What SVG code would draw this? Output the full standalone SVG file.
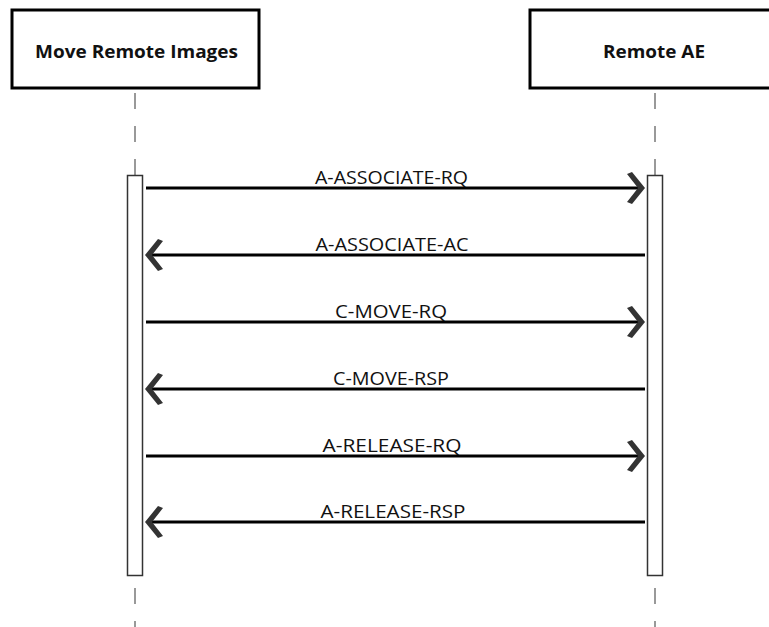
<svg xmlns="http://www.w3.org/2000/svg" width="769" height="627" viewBox="0 0 769 627">
<style>
.box{fill:#fff;stroke:#000;stroke-width:3}
.hd{font-family:"Open Sans","Noto Sans",sans-serif;font-weight:bold;font-size:18px;fill:#111;text-anchor:middle}
.life{stroke:#999;stroke-width:2;stroke-dasharray:16 17;fill:none}
.act{fill:#fff;stroke:#333;stroke-width:1.5}
.msg{stroke:#000;stroke-width:3;fill:none}
.lbl{font-family:"Open Sans","Noto Sans",sans-serif;font-size:18px;fill:#111;text-anchor:middle}
.ah{fill:#333}
</style>
<defs>
<polygon id="hr" points="0,0 -13,-16 -18,-14 -7,0 -18,14 -13,16"/>
<polygon id="hl" points="0,0 13,-16 18,-14 7,0 18,14 13,16"/>
</defs>
<g id="lifelines">
<line class="life" x1="135" y1="93" x2="135" y2="627"/>
<line class="life" x1="655" y1="93" x2="655" y2="627"/>
</g>
<g id="node-move">
<rect class="box" x="12" y="10" width="247" height="78"/>
<text class="hd" x="136.5" y="58" textLength="203" lengthAdjust="spacingAndGlyphs">Move Remote Images</text>
</g>
<g id="node-remote">
<rect class="box" x="530" y="10" width="260" height="78"/>
<text class="hd" x="654" y="58" textLength="102" lengthAdjust="spacingAndGlyphs">Remote AE</text>
</g>
<g id="activations">
<rect class="act" x="127.5" y="175.5" width="15" height="400"/>
<rect class="act" x="647.5" y="175.5" width="15" height="400"/>
</g>
<g id="connectors">
<line class="msg" x1="146" y1="188" x2="640" y2="188"/>
<use href="#hr" class="ah" x="645" y="188"/>
<text class="lbl" x="391.5" y="184" textLength="153" lengthAdjust="spacingAndGlyphs">A-ASSOCIATE-RQ</text>
<line class="msg" x1="645" y1="255" x2="150" y2="255"/>
<use href="#hl" class="ah" x="145" y="255"/>
<text class="lbl" x="392" y="251" textLength="153" lengthAdjust="spacingAndGlyphs">A-ASSOCIATE-AC</text>
<line class="msg" x1="146" y1="322" x2="640" y2="322"/>
<use href="#hr" class="ah" x="645" y="322"/>
<text class="lbl" x="391" y="318" textLength="112" lengthAdjust="spacingAndGlyphs">C-MOVE-RQ</text>
<line class="msg" x1="645" y1="389" x2="150" y2="389"/>
<use href="#hl" class="ah" x="145" y="389"/>
<text class="lbl" x="391" y="385" textLength="116" lengthAdjust="spacingAndGlyphs">C-MOVE-RSP</text>
<line class="msg" x1="146" y1="456" x2="640" y2="456"/>
<use href="#hr" class="ah" x="645" y="456"/>
<text class="lbl" x="392" y="452" textLength="139" lengthAdjust="spacingAndGlyphs">A-RELEASE-RQ</text>
<line class="msg" x1="645" y1="522" x2="150" y2="522"/>
<use href="#hl" class="ah" x="145" y="522"/>
<text class="lbl" x="393" y="518" textLength="145" lengthAdjust="spacingAndGlyphs">A-RELEASE-RSP</text>
</g>
</svg>
